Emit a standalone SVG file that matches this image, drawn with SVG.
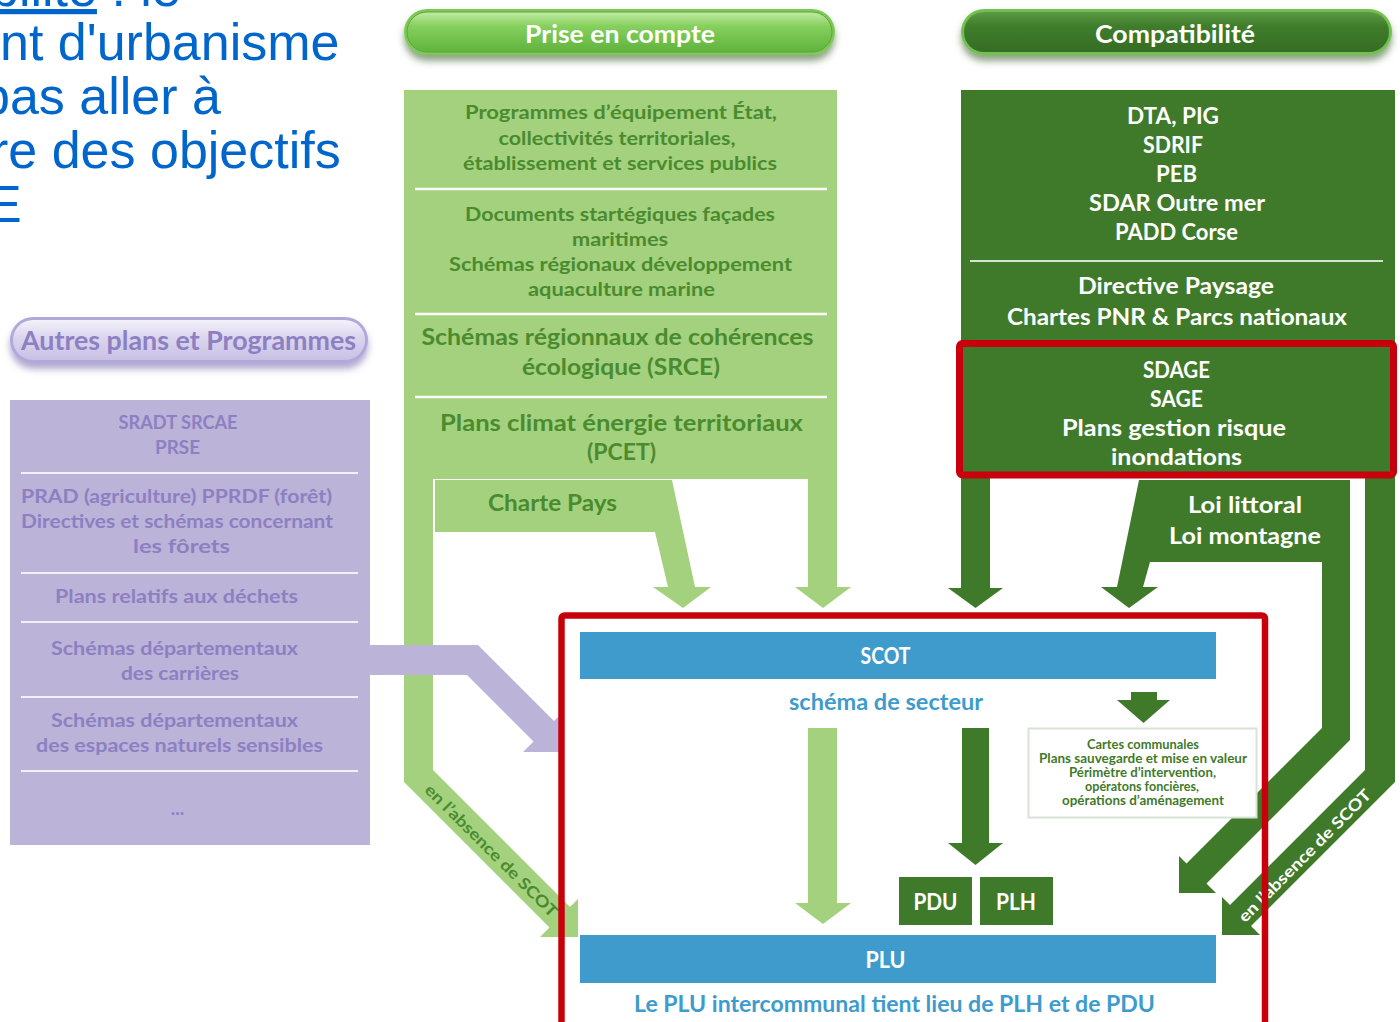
<svg xmlns="http://www.w3.org/2000/svg" width="1400" height="1022" viewBox="0 0 1400 1022">
<defs>
<style>
text{font-family:Lato,"Open Sans","Liberation Sans",sans-serif;font-weight:700;text-anchor:middle}
.lg{fill:#4b8b2f;font-size:19.5px}
.lgb{fill:#4b8b2f;font-size:23px}
.dg{fill:#ffffff;font-size:23.5px}
.pu{fill:#8c80c2;font-size:19px}
.bl{fill:#3e9bcc;font-size:23px}
.wt{fill:#ffffff;font-size:23px}
.ct{fill:#3f7a2b;font-size:12.5px}
.hd{fill:#ffffff;font-size:25px}
.top{font-family:"Liberation Sans",Arial,sans-serif;font-weight:400;font-size:52px;fill:#0066cc;text-anchor:start}
.sep{stroke:#ffffff;stroke-width:2.5}
.sepd{stroke:#d6e4cf;stroke-width:2}
.sepp{stroke:#f2f0fa;stroke-width:2}
.lgf{fill:#a3d17d}
.dgf{fill:#3f7a2b}
.puf{fill:#bbb3d8}
.blf{fill:#3e9bcc}
</style>
<linearGradient id="gPrise" x1="0" y1="0" x2="0" y2="1">
<stop offset="0" stop-color="#c2eaa6"/><stop offset="0.35" stop-color="#86d05e"/><stop offset="1" stop-color="#5fb33c"/>
</linearGradient>
<linearGradient id="gComp" x1="0" y1="0" x2="0" y2="1">
<stop offset="0" stop-color="#5c9a45"/><stop offset="0.35" stop-color="#3f7d2b"/><stop offset="1" stop-color="#356d24"/>
</linearGradient>
<linearGradient id="gAutres" x1="0" y1="0" x2="0" y2="1">
<stop offset="0" stop-color="#f4f2fb"/><stop offset="0.4" stop-color="#dcd7ef"/><stop offset="1" stop-color="#c9c1e4"/>
</linearGradient>
<filter id="shG" x="-10%" y="-40%" width="120%" height="200%">
<feDropShadow dx="0" dy="6" stdDeviation="3.5" flood-color="#2f5a22" flood-opacity="0.55"/>
</filter>
<filter id="shP" x="-10%" y="-40%" width="120%" height="200%">
<feDropShadow dx="0" dy="6" stdDeviation="3.5" flood-color="#6e62a8" flood-opacity="0.55"/>
</filter>
</defs>

<rect width="1400" height="1022" fill="#ffffff"/>

<!-- top-left cropped text -->
<g id="intro-text">
<text class="top" x="-10" y="6"><tspan text-decoration="underline">bilité</tspan> : le</text>
<text class="top" x="0" y="60">nt d'urbanisme</text>
<text class="top" x="-19" y="114">pas aller à</text>
<text class="top" x="-9" y="168">re des objectifs</text>
<text class="top" x="-13" y="222">E</text>
</g>

<!-- headers -->
<g id="hdr-prise">
<rect x="404" y="9" width="431" height="46" rx="23" fill="#7dc957" filter="url(#shG)"/>
<rect x="407" y="12" width="425" height="40" rx="20" fill="url(#gPrise)" stroke="#5aa83a" stroke-width="1"/>
<text class="hd" x="620" y="43" textLength="190" lengthAdjust="spacingAndGlyphs">Prise en compte</text>
</g>
<g id="hdr-compat">
<rect x="961" y="9" width="431" height="46" rx="23" fill="#72c04f" filter="url(#shG)"/>
<rect x="964" y="12" width="425" height="40" rx="20" fill="url(#gComp)"/>
<text class="hd" x="1175" y="43" textLength="160" lengthAdjust="spacingAndGlyphs">Compatibilité</text>
</g>
<g id="hdr-autres">
<rect x="10" y="317" width="358" height="46" rx="23" fill="#b2a9db" filter="url(#shP)"/>
<rect x="13" y="320" width="352" height="40" rx="20" fill="url(#gAutres)"/>
<text x="188.5" y="350" style="fill:#8c80c2;font-size:27px" textLength="335" lengthAdjust="spacingAndGlyphs">Autres plans et Programmes</text>
</g>

<!-- light green column -->
<g id="col-prise">
<path class="lgf" d="M404,90 H837 V587 H851 L823,608 L795,587 H808 V479 H433 V770 L570,907 L578,899 L578,937 L540,937 L549.5,927.5 L404,782 Z"/>
<line class="sep" x1="415" y1="189" x2="827" y2="189"/>
<line class="sep" x1="415" y1="314" x2="827" y2="314"/>
<line class="sep" x1="415" y1="397" x2="827" y2="397"/>
<text class="lg" x="621" y="119" textLength="312" lengthAdjust="spacingAndGlyphs">Programmes d’équipement État,</text>
<text class="lg" x="617" y="145" textLength="237" lengthAdjust="spacingAndGlyphs">collectivités territoriales,</text>
<text class="lg" x="620" y="170" textLength="314" lengthAdjust="spacingAndGlyphs">établissement et services publics</text>
<text class="lg" x="620" y="221" textLength="310" lengthAdjust="spacingAndGlyphs">Documents startégiques façades</text>
<text class="lg" x="620" y="246" textLength="96" lengthAdjust="spacingAndGlyphs">maritimes</text>
<text class="lg" x="620.5" y="271" textLength="343" lengthAdjust="spacingAndGlyphs">Schémas régionaux développement</text>
<text class="lg" x="621.5" y="296" textLength="187" lengthAdjust="spacingAndGlyphs">aquaculture marine</text>
<text class="lgb" x="617.5" y="345" textLength="392" lengthAdjust="spacingAndGlyphs">Schémas régionnaux de cohérences</text>
<text class="lgb" x="621" y="375" textLength="198" lengthAdjust="spacingAndGlyphs">écologique (SRCE)</text>
<text class="lgb" x="621.5" y="431" textLength="363" lengthAdjust="spacingAndGlyphs">Plans climat énergie territoriaux</text>
<text class="lgb" x="621.5" y="460" textLength="69" lengthAdjust="spacingAndGlyphs">(PCET)</text>
</g>

<!-- dark green column -->
<g id="col-compat">
<rect class="dgf" x="961" y="90" width="434" height="386"/>
<line class="sepd" x1="970" y1="261" x2="1383" y2="261"/>
<text class="dg" x="1173" y="124" textLength="92" lengthAdjust="spacingAndGlyphs">DTA, PIG</text>
<text class="dg" x="1173" y="153" textLength="60" lengthAdjust="spacingAndGlyphs">SDRIF</text>
<text class="dg" x="1176.5" y="182" textLength="41" lengthAdjust="spacingAndGlyphs">PEB</text>
<text class="dg" x="1177" y="211" textLength="176" lengthAdjust="spacingAndGlyphs">SDAR Outre mer</text>
<text class="dg" x="1176.5" y="240" textLength="123" lengthAdjust="spacingAndGlyphs">PADD Corse</text>
<text class="dg" x="1176" y="294" textLength="196" lengthAdjust="spacingAndGlyphs">Directive Paysage</text>
<text class="dg" x="1177" y="325" textLength="340" lengthAdjust="spacingAndGlyphs">Chartes PNR &amp; Parcs nationaux</text>
</g>

<!-- purple column -->
<g id="col-autres">
<rect class="puf" x="10" y="400" width="360" height="445"/>
<line class="sepp" x1="21" y1="473" x2="358" y2="473"/>
<line class="sepp" x1="21" y1="573" x2="358" y2="573"/>
<line class="sepp" x1="21" y1="622" x2="358" y2="622"/>
<line class="sepp" x1="21" y1="697" x2="358" y2="697"/>
<line class="sepp" x1="21" y1="771" x2="358" y2="771"/>
<text class="pu" x="178" y="429" textLength="119" lengthAdjust="spacingAndGlyphs">SRADT SRCAE</text>
<text class="pu" x="177.5" y="454" textLength="45" lengthAdjust="spacingAndGlyphs">PRSE</text>
<text class="pu" x="176.5" y="503" textLength="311" lengthAdjust="spacingAndGlyphs">PRAD (agriculture) PPRDF (forêt)</text>
<text class="pu" x="177" y="528" textLength="312" lengthAdjust="spacingAndGlyphs">Directives et schémas concernant</text>
<text class="pu" x="181.5" y="553" textLength="97" lengthAdjust="spacingAndGlyphs">les fôrets</text>
<text class="pu" x="176.5" y="603" textLength="243" lengthAdjust="spacingAndGlyphs">Plans relatifs aux déchets</text>
<text class="pu" x="174.5" y="655" textLength="247" lengthAdjust="spacingAndGlyphs">Schémas départementaux</text>
<text class="pu" x="180" y="680" textLength="118" lengthAdjust="spacingAndGlyphs">des carrières</text>
<text class="pu" x="174.5" y="727" textLength="247" lengthAdjust="spacingAndGlyphs">Schémas départementaux</text>
<text class="pu" x="179.5" y="752" textLength="287" lengthAdjust="spacingAndGlyphs">des espaces naturels sensibles</text>
<text class="pu" x="177.5" y="815">...</text>
</g>

<!-- connectors -->
<g id="connectors">
<!-- purple arrow -->
<path class="puf" d="M368,645 H478 L554,721 L561,714 L561,752 L523,752 L533.5,741.5 L467,675 H368 Z"/>
<!-- Charte Pays arrow -->
<path class="lgf" d="M435,480 H672 L695,587 H711 L683,608 L653,587 H668 L655,532 H435 Z"/>
<!-- dark green: left shaft -->
<path class="dgf" d="M961,474 H990 V588 H1003 L975.5,608 L948,588 H961 Z"/>
<!-- dark green: Loi littoral / montagne block and arrows -->
<path class="dgf" d="M1139,480 H1350 V740 L1206.5,883.5 L1216,893 L1179,893 L1179,856 L1186.5,863.5 L1322,728 V562 H1150 L1143,587 H1158 L1129,608 L1101,587 H1117 Z"/>
<!-- dark green: far right shaft (en l'absence de SCOT) -->
<path class="dgf" d="M1365,474 H1395 V782 L1251,926 L1260,935 L1222,935 L1222,897 L1230,905 L1365,770 Z"/>
<!-- inner arrows -->
<path class="lgf" d="M808,728 H837 V903 H851 L823,924 L795,903 H808 Z"/>
<path class="dgf" d="M962,728 H989 V843 H1003 L975.5,865 L948,843 H962 Z"/>
<path class="dgf" d="M1131,692 H1157 V700 H1170 L1143.5,723 L1117,700 H1131 Z"/>
<text transform="translate(492,850) rotate(45)" dominant-baseline="central" style="fill:#4b8b2f;font-size:16px" textLength="180" lengthAdjust="spacingAndGlyphs">en l’absence de SCOT</text>
<text transform="translate(1304,855) rotate(-45)" dominant-baseline="central" style="fill:#ffffff;font-size:16px" textLength="180" lengthAdjust="spacingAndGlyphs">en l’absence de SCOT</text>
</g>

<g id="charte-pays">
<text class="lgb" x="552.5" y="511" textLength="129" lengthAdjust="spacingAndGlyphs">Charte Pays</text>
</g>
<g id="sdage">
<text class="dg" x="1176.5" y="378" textLength="67" lengthAdjust="spacingAndGlyphs">SDAGE</text>
<text class="dg" x="1176.5" y="407" textLength="53" lengthAdjust="spacingAndGlyphs">SAGE</text>
<text class="dg" x="1174" y="436" textLength="224" lengthAdjust="spacingAndGlyphs">Plans gestion risque</text>
<text class="dg" x="1176.5" y="465" textLength="131" lengthAdjust="spacingAndGlyphs">inondations</text>
<rect x="959.5" y="343.5" width="434" height="131.5" rx="3" fill="none" stroke="#c8000b" stroke-width="7"/>
</g>
<g id="loi">
<text class="dg" x="1245" y="513" textLength="114" lengthAdjust="spacingAndGlyphs">Loi littoral</text>
<text class="dg" x="1245" y="544" textLength="152" lengthAdjust="spacingAndGlyphs">Loi montagne</text>
</g>

<!-- SCOT / PLU -->
<g id="scot">
<rect class="blf" x="580" y="632" width="636" height="47"/>
<text class="wt" x="885.5" y="664" textLength="50" lengthAdjust="spacingAndGlyphs">SCOT</text>
</g>
<g id="schema-secteur">
<text class="bl" x="886" y="710" textLength="194" lengthAdjust="spacingAndGlyphs">schéma de secteur</text>
</g>
<g id="cartes">
<rect x="1028.5" y="728.5" width="228" height="89" fill="#ffffff" stroke="#d8e2d6" stroke-width="2"/>
<text class="ct" x="1143" y="749" textLength="112" lengthAdjust="spacingAndGlyphs">Cartes communales</text>
<text class="ct" x="1143" y="763" textLength="208" lengthAdjust="spacingAndGlyphs">Plans sauvegarde et mise en valeur</text>
<text class="ct" x="1142.5" y="777" textLength="147" lengthAdjust="spacingAndGlyphs">Périmètre d’intervention,</text>
<text class="ct" x="1142" y="791" textLength="114" lengthAdjust="spacingAndGlyphs">opératons foncières,</text>
<text class="ct" x="1143" y="805" textLength="162" lengthAdjust="spacingAndGlyphs">opérations d’aménagement</text>
</g>
<g id="pdu">
<rect class="dgf" x="899" y="877" width="73" height="48"/>
<text class="wt" x="935.5" y="910" textLength="44" lengthAdjust="spacingAndGlyphs">PDU</text>
</g>
<g id="plh">
<rect class="dgf" x="980" y="877" width="73" height="48"/>
<text class="wt" x="1016" y="910" textLength="40" lengthAdjust="spacingAndGlyphs">PLH</text>
</g>
<g id="plu">
<rect class="blf" x="580" y="935" width="636" height="48"/>
<text class="wt" x="885.5" y="968" textLength="40" lengthAdjust="spacingAndGlyphs">PLU</text>
</g>
<g id="plu-note">
<text class="bl" x="894.5" y="1012" textLength="521" lengthAdjust="spacingAndGlyphs">Le PLU intercommunal tient lieu de PLH et de PDU</text>
</g>

<!-- red frame around SCOT/PLU -->
<g id="frame">
<rect x="561.5" y="615.5" width="703.5" height="440" rx="3" fill="none" stroke="#c8000b" stroke-width="6.5"/>
</g>
</svg>
